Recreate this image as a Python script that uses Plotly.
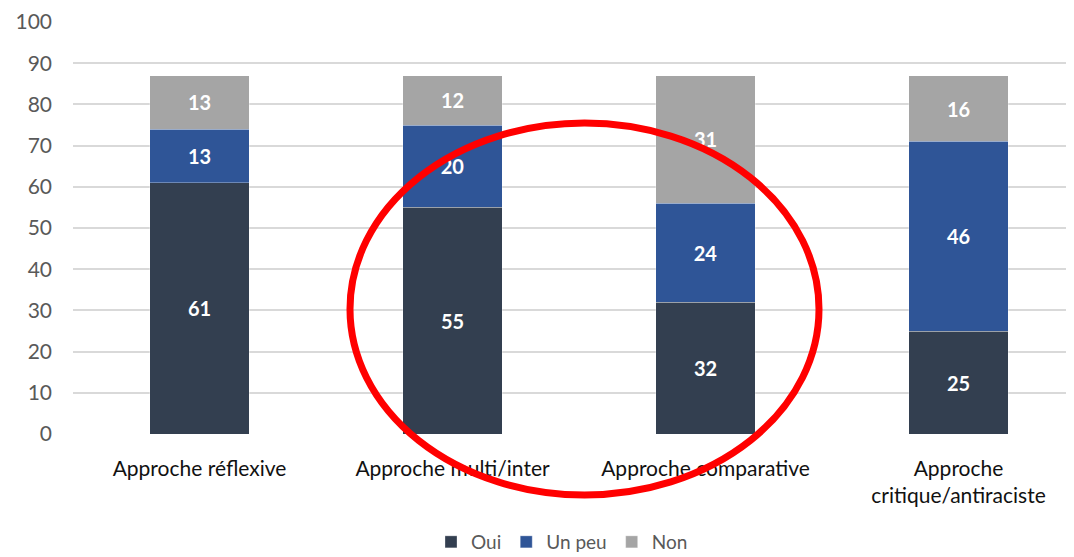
import plotly.graph_objects as go

categories = ["Approche réflexive", "Approche multi/inter", "Approche comparative",
              "Approche<br>critique/antiraciste"]
oui = [61, 55, 32, 25]
un_peu = [13, 20, 24, 46]
non = [13, 12, 31, 16]
series_names = ["Oui", "Un peu", "Non"]
colors = ["#333f50", "#2f5597", "#a5a5a5"]
y_ticks = [0, 10, 20, 30, 40, 50, 60, 70, 80, 90, 100]

# page has an 8px body margin; figure is offset by it
OFF = 8
W, H = 1074 - OFF, 557 - OFF
L, R, T, B = 73 - OFF, 0, 22 - OFF, 123
pw, ph = W - L - R, H - T - B
PLOT_LEFT_PAGE, PLOT_BOTTOM_PAGE = 73, 434

def px_x(p):
    return (p - PLOT_LEFT_PAGE) / pw

def px_y(p):
    return (PLOT_BOTTOM_PAGE - p) / ph

fig = go.Figure()
for name, vals, col in zip(series_names, [oui, un_peu, non], colors):
    fig.add_trace(go.Bar(
        x=list(range(len(categories))), y=vals, name=name,
        marker=dict(color=col, line=dict(color="rgba(255,255,255,0.6)", width=0.5)),
        width=0.395,
        text=vals, texttemplate="%{y}", textposition="inside",
        insidetextanchor="middle",
        textfont=dict(family="Lato", size=20, color="white", weight="bold"),
        hoverinfo="skip",
    ))

fig.update_layout(
    barmode="stack",
    width=W, height=H,
    margin=dict(l=L, r=R, t=T, b=B, autoexpand=False),
    paper_bgcolor="white", plot_bgcolor="white",
    font=dict(family="Lato", size=19, color="#595959"),
    showlegend=True,
    legend=dict(orientation="h", x=px_x(562), xanchor="center",
                y=px_y(542), yanchor="middle",
                font=dict(family="Lato", size=19, color="#595959"),
                itemwidth=30, traceorder="normal", tracegroupgap=0),
    xaxis=dict(
        tickmode="array", tickvals=list(range(len(categories))), ticktext=categories,
        range=[-0.5, -0.5 + pw / 253.0],
        showgrid=False, zeroline=False, showline=False,
        tickfont=dict(family="Lato", size=21, color="#111111"),
        ticks="", ticklabelstandoff=20,
    ),
    yaxis=dict(
        range=[0, 100], tickvals=y_ticks,
        showgrid=True, gridcolor="#d9d9d9", gridwidth=2,
        zeroline=False, showline=False,
        tickfont=dict(family="Lato", size=21, color="#595959"),
        ticks="", ticklabelstandoff=20,
    ),
    shapes=[
        dict(type="circle", xref="paper", yref="paper",
             x0=px_x(350), x1=px_x(819), y0=px_y(495), y1=px_y(123),
             line=dict(color="#ff0000", width=7), layer="above"),
    ],
)

fig.write_html("out.html")
